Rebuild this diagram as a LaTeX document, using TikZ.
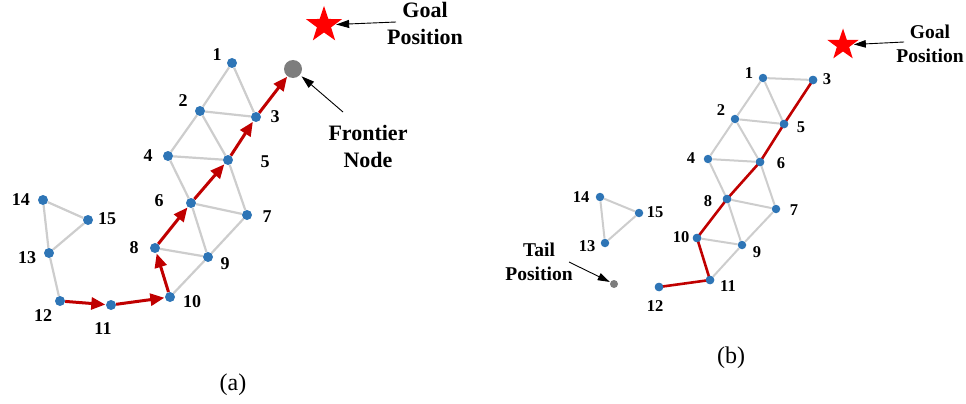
\documentclass[tikz,border=0pt]{standalone}
\usepackage{fontspec}
\setmainfont{Liberation Serif}
\usetikzlibrary{shapes.geometric,arrows.meta}
\definecolor{dotblue}{RGB}{46,117,182}
\definecolor{edgegrey}{RGB}{205,205,205}
\definecolor{pathred}{RGB}{192,0,0}
\definecolor{frontgrey}{RGB}{125,125,125}
\begin{document}
\begin{tikzpicture}[x=1pt,y=-1pt,
  dota/.style={circle,fill=dotblue,inner sep=0pt,minimum size=10pt},
  dotb/.style={circle,fill=dotblue,inner sep=0pt,minimum size=8.5pt},
  numa/.style={font=\bfseries\fontsize{18}{18}\selectfont,inner sep=0pt},
  numb/.style={font=\bfseries\fontsize{16.5}{16.5}\selectfont,inner sep=0pt},
  annoa/.style={font=\bfseries\fontsize{22}{27}\selectfont,align=center,inner sep=0pt},
  annob/.style={font=\bfseries\fontsize{19.5}{24}\selectfont,align=center,inner sep=0pt},
  capt/.style={font=\fontsize{24}{24}\selectfont,inner sep=0pt},
  gedge/.style={draw=edgegrey,line width=2.2pt},
  rarrow/.style={draw=pathred,line width=3pt,-{Triangle[length=14pt,width=12pt]},shorten >=0.5pt},
  rpath/.style={draw=pathred,line width=2.6pt},
  pointer/.style={draw=black,line width=0.9pt,-{Triangle[length=13pt,width=8pt]}},
  goalstar/.style={star,star points=5,star point ratio=2.55,fill=red,inner sep=0pt}
]
\useasboundingbox (0,0) rectangle (966,404);

% ---------------- panel (a) ----------------
\node[dota] (a1) at (232,63) {};
\node[dota] (a2) at (200,111) {};
\node[dota] (a3) at (256,117) {};
\node[dota] (a4) at (168,156) {};
\node[dota] (a5) at (228,160) {};
\node[dota] (a6) at (191,203) {};
\node[dota] (a7) at (247,215) {};
\node[dota] (a8) at (155,248) {};
\node[dota] (a9) at (208,257) {};
\node[dota] (a10) at (170,297) {};
\node[dota] (a11) at (111,305) {};
\node[dota] (a12) at (60,301) {};
\node[dota] (a13) at (49,253) {};
\node[dota] (a14) at (43,200) {};
\node[dota] (a15) at (88,220) {};
\node[circle,fill=frontgrey,inner sep=0pt,minimum size=18pt] (afront) at (293,69) {};
\node[goalstar,minimum size=38pt] (astar) at (324,25) {};

\foreach \u/\v in {1/2,1/3,2/3,2/4,2/5,4/5,4/6,5/7,6/7,6/9,8/9,7/9,9/10,13/14,14/15,13/15,12/13}
  \draw[gedge] (a\u) -- (a\v);
\foreach \u/\v in {12/11,11/10,10/8,8/6,6/5,5/3}
  \draw[rarrow] (a\u) -- (a\v);
\draw[rarrow] (a3) -- (afront);

\node[numa] (la1) at (217,55) {1};
\node[numa] (la2) at (183,101) {2};
\node[numa] (la3) at (275,117) {3};
\node[numa] (la4) at (148,156) {4};
\node[numa] (la5) at (265,162) {5};
\node[numa] (la6) at (159,201) {6};
\node[numa] (la7) at (267,217) {7};
\node[numa] (la8) at (134,248) {8};
\node[numa] (la9) at (225,264) {9};
\node[numa] (la10) at (192,302) {10};
\node[numa] (la11) at (103,329) {11};
\node[numa] (la12) at (43,316) {12};
\node[numa] (la13) at (27,258) {13};
\node[numa] (la14) at (21,200) {14};
\node[numa] (la15) at (107,219) {15};

\node[annoa] (agoal) at (425,23) {Goal\\Position};
\node[annoa] (afrtxt) at (368,146) {Frontier\\Node};
\coordinate (agoalsrc) at (396,22);
\coordinate (afrsrc) at (343,112);
\draw[pointer,shorten >=1pt] (agoalsrc) -- (astar);
\draw[pointer,shorten >=2pt] (afrsrc) -- (afront);

\node[capt] (capa) at (233,385) {(a)};

% ---------------- panel (b) ----------------
\node[dotb] (b1) at (763,78) {};
\node[dotb] (b2) at (735,119) {};
\node[dotb] (b3) at (813,80) {};
\node[dotb] (b4) at (708,159) {};
\node[dotb] (b5) at (784,124) {};
\node[dotb] (b6) at (760,162) {};
\node[dotb] (b7) at (776,209) {};
\node[dotb] (b8) at (727,199) {};
\node[dotb] (b9) at (742,245) {};
\node[dotb] (b10) at (697,238) {};
\node[dotb] (b11) at (710,280) {};
\node[dotb] (b12) at (659,287) {};
\node[dotb] (b13) at (605,243) {};
\node[dotb] (b14) at (600,197) {};
\node[dotb] (b15) at (639,213) {};
\node[circle,fill=frontgrey,inner sep=0pt,minimum size=8pt] (btail) at (614,284) {};
\node[goalstar,minimum size=33pt] (bstar) at (843,45) {};

\foreach \u/\v in {1/3,1/2,1/5,2/5,2/4,2/6,4/6,4/8,6/7,8/7,8/9,10/9,7/9,9/11,14/15,14/13,13/15}
  \draw[gedge,line width=2pt] (b\u) -- (b\v);
\foreach \u/\v in {3/5,5/6,6/8,8/10,10/11,11/12}
  \draw[rpath] (b\u.center) -- (b\v.center);
\foreach \i in {3,5,6,8,10,11,12}
  \fill[dotblue] (b\i) circle (4.25pt);

\node[numb] (lb1) at (749,73) {1};
\node[numb] (lb2) at (721,110) {2};
\node[numb] (lb3) at (827,79) {3};
\node[numb] (lb4) at (691,158) {4};
\node[numb] (lb5) at (801,127) {5};
\node[numb] (lb6) at (781,163) {6};
\node[numb] (lb7) at (794,210) {7};
\node[numb] (lb8) at (708,201) {8};
\node[numb] (lb9) at (757,252) {9};
\node[numb] (lb10) at (681,237) {10};
\node[numb] (lb11) at (728,286) {11};
\node[numb] (lb12) at (655,306) {12};
\node[numb] (lb13) at (587,246) {13};
\node[numb] (lb14) at (581,197) {14};
\node[numb] (lb15) at (655,212) {15};

\node[annob] (bgoal) at (930,44) {Goal\\Position};
\node[annob] (btailtxt) at (539,262) {Tail\\Position};
\coordinate (bgoalsrc) at (904,42);
\coordinate (btailsrc) at (569,262);
\draw[pointer,-{Triangle[length=12pt,width=7.5pt]},shorten >=1pt] (bgoalsrc) -- (bstar);
\draw[pointer,-{Triangle[length=12pt,width=7.5pt]},shorten >=0.5pt] (btailsrc) -- (btail);

\node[capt] (capb) at (731,358) {(b)};
\end{tikzpicture}
\end{document}
